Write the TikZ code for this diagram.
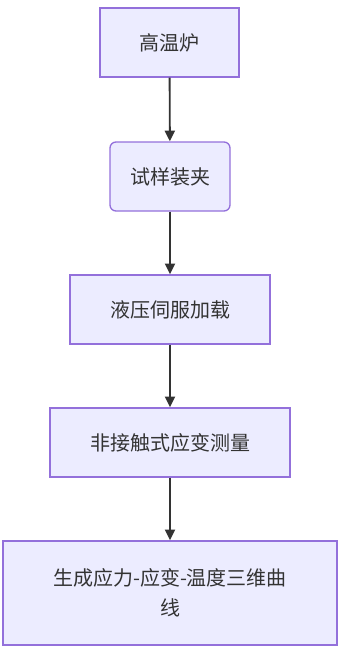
\documentclass[tikz,border=0pt]{standalone}
\usepackage{fontspec}
\setmainfont{Noto Sans CJK SC}
\usepackage{xcolor}
\definecolor{boxfill}{HTML}{ECECFF}
\definecolor{boxline}{HTML}{9370DB}
\definecolor{arrowcol}{HTML}{333333}
\usetikzlibrary{arrows.meta}

\begin{document}
\begin{tikzpicture}[x=0.75pt,y=-0.75pt,
    stage/.style={draw=boxline,fill=boxfill,line width=1pt,minimum height=51.75pt,
        inner sep=0pt,align=center,font=\fontsize{15}{22.5}\selectfont,text=black!80},
    flow/.style={-{Triangle[length=8pt,width=7.5pt]},draw=arrowcol,line width=1.4pt}]
    \useasboundingbox (0,0) rectangle (344,653);

    \node[stage,minimum width=104.25pt] (furnace) at (169.5,42.5) {高温炉};
    \node[stage,rounded corners=4.5pt,minimum width=90pt] (clamp) at (170,176.5) {试样装夹};
    \node[stage,minimum width=150pt] (load) at (170,309.5) {液压伺服加载};
    \node[stage,minimum width=180pt] (strain) at (170,442.5) {非接触式应变测量};
    \node[stage,minimum width=250.5pt,minimum height=78pt] (curve) at (170,593)
        {生成应力-应变-温度三维曲\\线};

    \draw[flow] (furnace) -- (clamp);
    \draw[flow] (clamp) -- (load);
    \draw[flow] (load) -- (strain);
    \draw[flow] (strain) -- (curve);
\end{tikzpicture}
\end{document}
